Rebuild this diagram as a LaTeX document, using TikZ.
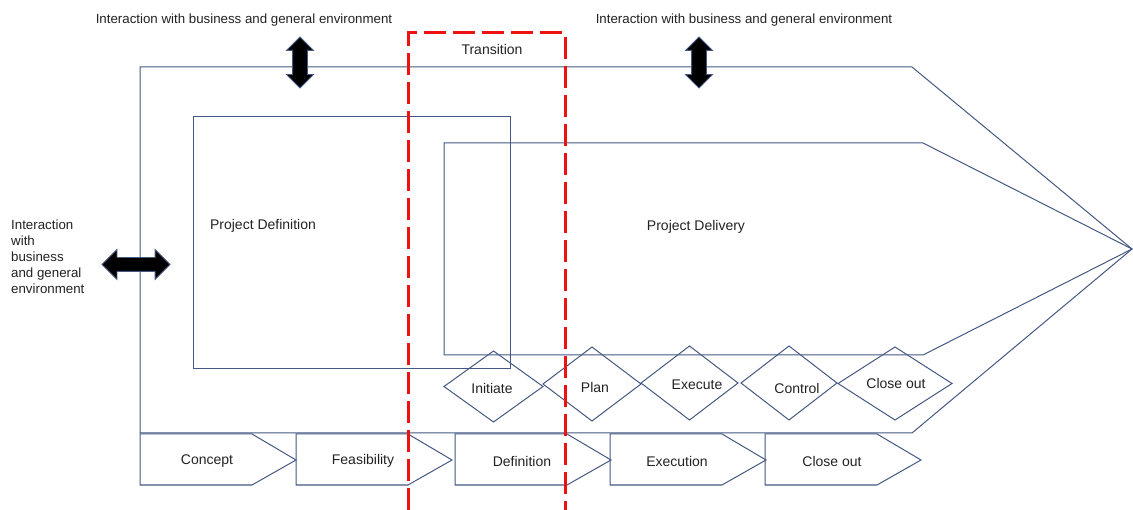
\documentclass[tikz,border=0pt]{standalone}
\usepackage{fontspec}
\setmainfont{Liberation Sans}
\usetikzlibrary{shapes.arrows}
\definecolor{frame}{RGB}{68,88,130}
\definecolor{ink}{RGB}{34,34,34}
\definecolor{trans}{RGB}{236,18,18}
\begin{document}
\begin{tikzpicture}[x=1pt,y=-1pt,
  outline/.style={draw=frame,line width=1pt,line join=miter},
  lbl/.style={text=ink,inner sep=0pt,font=\fontsize{14}{16}\selectfont},
  toplbl/.style={text=ink,inner sep=0pt,font=\fontsize{13.3}{16}\selectfont},
  envarrow/.style={double arrow,draw=frame,fill=black,line width=0.8pt,
    double arrow tip angle=90},
  transbox/.style={draw=trans,line width=3pt,dash pattern=on 22pt off 7pt}]
\useasboundingbox (0,0) rectangle (1133,510);

% outer arrow-shaped frame of the whole project
\coordinate (tip) at (1132,249);
\draw[outline] (140,67) -- (912,67) -- (tip) -- (912,433) -- (140,433) -- cycle;

% project definition box and project delivery arrow
\draw[outline] (193,117) rectangle (510,369);
\draw[outline] (444,143) -- (923,143) -- (tip) -- (923,355) -- (444,355) -- cycle;
\node[lbl] (pdef) at (263,226) {Project Definition};
\node[lbl] (pdel) at (696,227) {Project Delivery};

% delivery process steps
\foreach \cx/\cy/\hw/\hh/\tx/\ty/\t/\n in {
  493.5/386.5/49.5/35.5/492/388/Initiate/ini,
  592/384/49/37/595/387/Plan/pln,
  689.5/383/48.5/37/697/385/Execute/exe,
  789/383/48/37/797/388/Control/ctl,
  895/383.5/57/36.5/896/383/Close out/clo}{
  \draw[outline] (\cx-\hw,\cy) -- (\cx,\cy-\hh) -- (\cx+\hw,\cy) -- (\cx,\cy+\hh) -- cycle;
  \node[lbl] (\n) at (\tx,\ty) {\t};
}

% project life-cycle phases
\foreach \x/\t/\n in {140/Concept/con, 296/Feasibility/fea, 455/Definition/def,
  610/Execution/exn, 765/Close out/cls}{
  \draw[outline] (\x,434) -- (\x+112,434) -- (\x+156,460) -- (\x+112,485) -- (\x,485) -- cycle;
  \node[lbl] (\n) at (\x+67,461) {\t};
}

% interaction with the environment
\node[toplbl] (envtl) at (244,20) {Interaction with business and general environment};
\node[toplbl] (envtr) at (744,20) {Interaction with business and general environment};
\node[toplbl,align=left,anchor=north west] (envl) at (11,220)
  {Interaction\\with\\business\\and general\\environment};
\node[envarrow,rotate=90,inner sep=7pt,double arrow head extend=6pt,
  minimum height=51pt] (arrtl) at (300,62.5) {};
\node[envarrow,rotate=90,inner sep=7pt,double arrow head extend=6pt,
  minimum height=51pt] (arrtr) at (699,62.5) {};
\node[envarrow,inner sep=6.5pt,double arrow head extend=8pt,
  minimum height=68pt] (arrl) at (136,264.5) {};

% transition zone
\draw[transbox] (408,510) -- (408,33) -- (565,33) -- (565,510);
\node[lbl] (trn) at (492,50) {Transition};
\end{tikzpicture}
\end{document}
